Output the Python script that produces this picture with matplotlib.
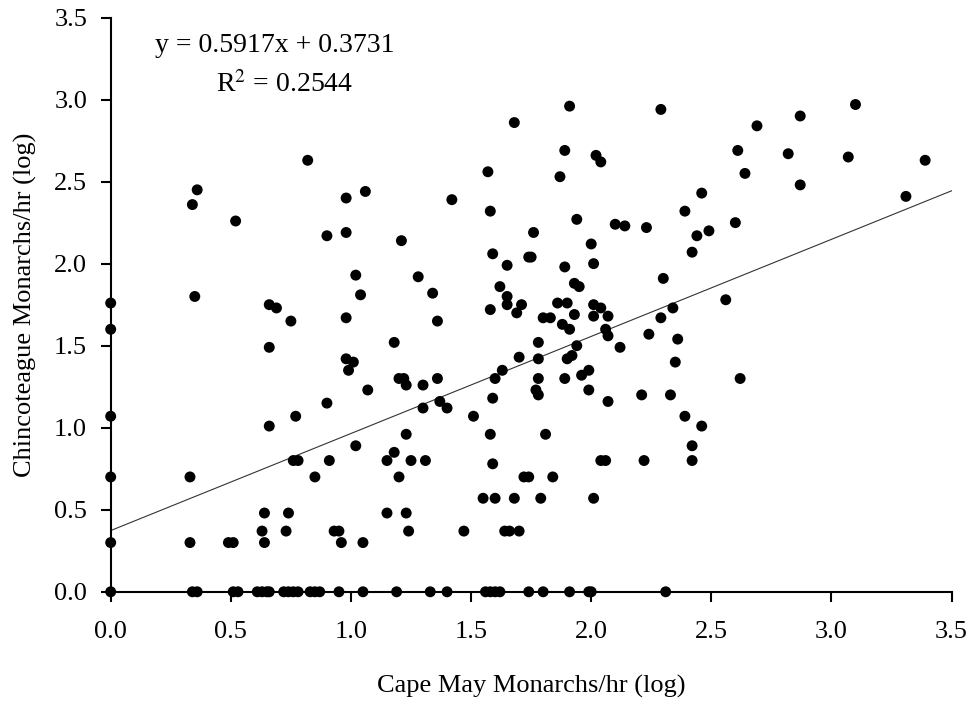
import numpy as np
import matplotlib
matplotlib.use('Agg')
import matplotlib.pyplot as plt

# Cape May (x) vs Chincoteague (y), log monarchs/hr
cape_may = [
    0.82, 0.36, 0.34, 0.52, 0.35, 0.00, 0.66, 0.69, 0.75, 0.00, 0.66, 0.00, 0.77, 0.66,
    0.76, 0.78, 0.33, 0.00, 0.85, 0.64, 0.74, 0.63, 0.73, 0.00, 0.33, 0.49, 0.51, 0.64,
    1.68, 1.57, 1.06, 0.98, 1.42, 1.58, 0.90, 0.98, 1.21, 1.59, 1.74, 1.65, 1.02, 1.28,
    1.62, 1.04, 1.34, 1.65, 1.65, 1.58, 1.71, 1.69, 0.98, 1.36, 1.18, 0.98, 1.01, 0.99,
    1.70, 1.63, 1.20, 1.22, 1.23, 1.30, 1.36, 1.60, 1.07, 0.90, 1.37, 1.30, 1.40, 1.59,
    1.51, 1.23, 1.58, 1.02, 1.18, 0.91, 1.15, 1.25, 1.31, 1.59, 1.20, 1.72, 1.74, 1.84,
    1.55, 1.60, 1.68, 1.79, 2.01, 1.15, 1.23, 0.93, 0.95, 1.24, 1.47, 1.64, 1.66, 1.70,
    0.96, 1.05,
    1.91, 2.29, 1.89, 2.02, 2.04, 2.61, 1.87, 2.46, 1.94, 2.39, 2.10, 2.14, 2.23, 2.60,
    1.76, 2.44, 2.49, 1.75, 2.00, 2.01, 1.89, 2.42, 1.93, 1.95, 2.30, 1.86, 1.90, 2.01,
    2.04, 2.34, 2.56, 2.01, 2.07, 1.80, 1.83, 1.93, 1.88, 1.91, 2.29, 2.06, 2.07, 1.78,
    1.94, 2.24, 2.36, 2.12, 1.78, 1.90, 1.92, 2.35, 1.78, 1.89, 1.96, 1.99, 1.77, 1.78,
    1.99, 2.07, 2.21, 2.33, 2.62, 2.39, 2.46, 1.81, 2.42, 2.04, 2.06, 2.22, 2.42,
    3.10, 2.87, 2.69, 2.82, 3.07, 3.39, 2.64, 2.87, 3.31,
    0.00, 0.34, 0.36, 0.51, 0.53, 0.61, 0.63, 0.65, 0.66, 0.72, 0.74, 0.76, 0.78, 0.83,
    0.85, 0.87, 0.95, 1.05, 1.19, 1.33, 1.40, 1.56, 1.58, 1.60, 1.62, 1.74, 1.80, 1.91,
    1.99, 2.00, 2.31,
]
chincoteague = [
    2.63, 2.45, 2.36, 2.26, 1.80, 1.76, 1.75, 1.73, 1.65, 1.60, 1.49, 1.07, 1.07, 1.01,
    0.80, 0.80, 0.70, 0.70, 0.70, 0.48, 0.48, 0.37, 0.37, 0.30, 0.30, 0.30, 0.30, 0.30,
    2.86, 2.56, 2.44, 2.40, 2.39, 2.32, 2.17, 2.19, 2.14, 2.06, 2.04, 1.99, 1.93, 1.92,
    1.86, 1.81, 1.82, 1.80, 1.75, 1.72, 1.75, 1.70, 1.67, 1.65, 1.52, 1.42, 1.40, 1.35,
    1.43, 1.35, 1.30, 1.30, 1.26, 1.26, 1.30, 1.30, 1.23, 1.15, 1.16, 1.12, 1.12, 1.18,
    1.07, 0.96, 0.96, 0.89, 0.85, 0.80, 0.80, 0.80, 0.80, 0.78, 0.70, 0.70, 0.70, 0.70,
    0.57, 0.57, 0.57, 0.57, 0.57, 0.48, 0.48, 0.37, 0.37, 0.37, 0.37, 0.37, 0.37, 0.37,
    0.30, 0.30,
    2.96, 2.94, 2.69, 2.66, 2.62, 2.69, 2.53, 2.43, 2.27, 2.32, 2.24, 2.23, 2.22, 2.25,
    2.19, 2.17, 2.20, 2.04, 2.12, 2.00, 1.98, 2.07, 1.88, 1.86, 1.91, 1.76, 1.76, 1.75,
    1.73, 1.73, 1.78, 1.68, 1.68, 1.67, 1.67, 1.69, 1.63, 1.60, 1.67, 1.60, 1.56, 1.52,
    1.50, 1.57, 1.54, 1.49, 1.42, 1.42, 1.44, 1.40, 1.30, 1.30, 1.32, 1.35, 1.23, 1.20,
    1.23, 1.16, 1.20, 1.20, 1.30, 1.07, 1.01, 0.96, 0.89, 0.80, 0.80, 0.80, 0.80,
    2.97, 2.90, 2.84, 2.67, 2.65, 2.63, 2.55, 2.48, 2.41,
    0.00, 0.00, 0.00, 0.00, 0.00, 0.00, 0.00, 0.00, 0.00, 0.00, 0.00, 0.00, 0.00, 0.00,
    0.00, 0.00, 0.00, 0.00, 0.00, 0.00, 0.00, 0.00, 0.00, 0.00, 0.00, 0.00, 0.00, 0.00,
    0.00, 0.00, 0.00,
]
slope, intercept = 0.5917, 0.3731
r_squared = 0.2544
ticks = [0.0, 0.5, 1.0, 1.5, 2.0, 2.5, 3.0, 3.5]

plt.rcParams['font.family'] = ['Liberation Serif', 'DejaVu Serif']
plt.rcParams['mathtext.fontset'] = 'stix'

fig = plt.figure(figsize=(9.71, 7.02), dpi=100)
ax = fig.add_axes([0.114, 0.157, 0.866, 0.818])

ax.scatter(cape_may, chincoteague, s=62, color='black', edgecolors='none',
           clip_on=False, zorder=3)

xs = np.array([0.0, 3.5])
ax.plot(xs, slope * xs + intercept, color='#333333', lw=0.8, zorder=2)

ax.set_xlim(0, 3.5)
ax.set_ylim(0, 3.5)
ax.set_xticks(ticks)
ax.set_yticks(ticks)
ax.set_xticklabels([f'{t:.1f}' for t in ticks])
ax.set_yticklabels([f'{t:.1f}' for t in ticks])

for side in ['top', 'right']:
    ax.spines[side].set_visible(False)
for side in ['left', 'bottom']:
    ax.spines[side].set_linewidth(1.5)

ax.tick_params(axis='both', direction='out', length=7, width=1.5, labelsize=19)
ax.tick_params(axis='x', pad=14)
ax.tick_params(axis='y', pad=10)

ax.set_xlabel('Cape May Monarchs/hr (log)', fontsize=19, labelpad=23)
ax.set_ylabel('Chincoteague Monarchs/hr (log)', fontsize=19, labelpad=12)

ax.text(0.185, 3.33, f'y = {slope}x + {intercept}', fontsize=20, ha='left', va='center')
ax.text(0.44, 3.09, f'R$^2$ = {r_squared}', fontsize=20, ha='left', va='center')

fig.savefig('out.png', dpi=100)
